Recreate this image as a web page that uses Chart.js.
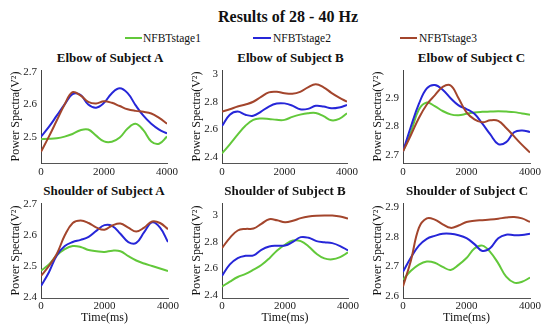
<!DOCTYPE html>
<html><head><meta charset="utf-8">
<script src="https://cdn.jsdelivr.net/npm/chart.js@4"></script>
<style>
html,body{margin:0;padding:0;background:#fff;}
body{width:550px;height:329px;position:relative;overflow:hidden;font-family:'Liberation Serif','Times New Roman',serif;color:#111;}
canvas{position:absolute;}
.t{position:absolute;white-space:nowrap;transform:translate(-50%,-50%);}
.sw{position:absolute;height:2px;}
.lg{position:absolute;white-space:nowrap;transform:translateY(-50%);}
</style></head><body>
<script>
// ---------- data ----------
const timeMs = [0,250,500,750,1000,1250,1500,1750,2000,2250,2500,2750,3000,3250,3500,3750,4000];
const seriesNames = ['NFBTstage1','NFBTstage2','NFBTstage3'];
const seriesColors = ['#62c83a','#2626d8','#a3452c'];
const xTicks = [0,2000,4000];
const panelTitles = ['Elbow of Subject A','Elbow of Subject B','Elbow of Subject C','Shoulder of Subject A','Shoulder of Subject B','Shoulder of Subject C'];

const elbowA_stage1 = [2.492,2.493,2.495,2.500,2.508,2.520,2.522,2.503,2.485,2.484,2.497,2.525,2.540,2.520,2.485,2.478,2.500];
const elbowA_stage2 = [2.500,2.530,2.565,2.600,2.632,2.630,2.600,2.590,2.605,2.635,2.650,2.635,2.598,2.565,2.540,2.522,2.510];
const elbowA_stage3 = [2.453,2.500,2.550,2.600,2.638,2.628,2.608,2.603,2.610,2.605,2.595,2.585,2.580,2.577,2.572,2.558,2.540];
const elbowA_yTicks = [2.5,2.6,2.7];
const elbowA_yLimits = [2.418,2.707];

const elbowB_stage1 = [2.424,2.490,2.560,2.625,2.668,2.678,2.675,2.668,2.668,2.690,2.706,2.716,2.718,2.695,2.665,2.675,2.716];
const elbowB_stage2 = [2.623,2.705,2.728,2.705,2.698,2.728,2.765,2.787,2.788,2.772,2.745,2.748,2.770,2.765,2.752,2.758,2.776];
const elbowB_stage3 = [2.728,2.745,2.765,2.780,2.800,2.835,2.868,2.872,2.862,2.858,2.872,2.905,2.927,2.905,2.865,2.830,2.800];
const elbowB_yTicks = [2.4,2.6,2.8,3];
const elbowB_yLimits = [2.354,3.031];

const elbowC_stage1 = [2.712,2.780,2.860,2.885,2.872,2.855,2.843,2.840,2.845,2.850,2.852,2.853,2.854,2.853,2.851,2.846,2.842];
const elbowC_stage2 = [2.712,2.800,2.880,2.935,2.947,2.930,2.900,2.875,2.862,2.845,2.810,2.772,2.738,2.745,2.780,2.786,2.781];
const elbowC_stage3 = [2.712,2.770,2.830,2.878,2.910,2.940,2.945,2.900,2.850,2.825,2.815,2.822,2.820,2.795,2.765,2.735,2.708];
const elbowC_yTicks = [2.7,2.8,2.9];
const elbowC_yLimits = [2.671,3.0];

const shoulderA_stage1 = [2.485,2.505,2.535,2.555,2.565,2.562,2.552,2.548,2.546,2.550,2.548,2.532,2.518,2.508,2.500,2.492,2.484];
const shoulderA_stage2 = [2.435,2.480,2.535,2.565,2.578,2.585,2.595,2.615,2.633,2.630,2.605,2.578,2.575,2.610,2.642,2.625,2.578];
const shoulderA_stage3 = [2.468,2.500,2.540,2.600,2.640,2.648,2.640,2.625,2.618,2.632,2.638,2.625,2.612,2.625,2.645,2.640,2.620];
const shoulderA_yTicks = [2.4,2.5,2.6,2.7];
const shoulderA_yLimits = [2.396,2.705];

const shoulderB_stage1 = [2.463,2.500,2.535,2.558,2.590,2.625,2.675,2.735,2.778,2.810,2.805,2.765,2.710,2.675,2.668,2.685,2.720];
const shoulderB_stage2 = [2.544,2.630,2.678,2.695,2.698,2.740,2.765,2.770,2.772,2.800,2.835,2.830,2.805,2.797,2.790,2.768,2.735];
const shoulderB_stage3 = [2.753,2.830,2.885,2.897,2.900,2.935,2.970,2.962,2.947,2.958,2.978,2.990,2.996,2.998,2.997,2.990,2.975];
const shoulderB_yTicks = [2.4,2.6,2.8,3];
const shoulderB_yLimits = [2.377,3.092];

const shoulderC_stage1 = [2.655,2.685,2.706,2.716,2.712,2.698,2.688,2.705,2.728,2.760,2.770,2.748,2.710,2.665,2.645,2.648,2.662];
const shoulderC_stage2 = [2.682,2.730,2.770,2.793,2.803,2.810,2.810,2.805,2.795,2.775,2.752,2.762,2.795,2.807,2.805,2.806,2.810];
const shoulderC_stage3 = [2.632,2.720,2.830,2.862,2.858,2.842,2.830,2.838,2.850,2.854,2.856,2.858,2.861,2.865,2.867,2.862,2.850];
const shoulderC_yTicks = [2.6,2.7,2.8,2.9];
const shoulderC_yLimits = [2.593,2.914];

// ---------- layout ----------
const FONT = "'Liberation Serif','Times New Roman',serif";
const YW = 40, PT = 4, PR = 20;
const panels = [
  {series:[elbowA_stage1,elbowA_stage2,elbowA_stage3], yTicks:elbowA_yTicks, lim:elbowA_yLimits, L:41,T:70,R:167,B:163, XH:18, xPad:3, bottom:false, tx:110, ty:57.5},
  {series:[elbowB_stage1,elbowB_stage2,elbowB_stage3], yTicks:elbowB_yTicks, lim:elbowB_yLimits, L:222,T:70,R:347,B:163, XH:18, xPad:3, bottom:false, tx:290.5, ty:57.5},
  {series:[elbowC_stage1,elbowC_stage2,elbowC_stage3], yTicks:elbowC_yTicks, lim:elbowC_yLimits, L:403,T:70,R:530,B:163, XH:18, xPad:3, bottom:false, tx:471.5, ty:57.5},
  {series:[shoulderA_stage1,shoulderA_stage2,shoulderA_stage3], yTicks:shoulderA_yTicks, lim:shoulderA_yLimits, L:41,T:203,R:168,B:298, XH:29, xPad:2, bottom:true, tx:104, ty:191},
  {series:[shoulderB_stage1,shoulderB_stage2,shoulderB_stage3], yTicks:shoulderB_yTicks, lim:shoulderB_yLimits, L:222,T:203,R:348,B:298, XH:29, xPad:2, bottom:true, tx:285, ty:191},
  {series:[shoulderC_stage1,shoulderC_stage2,shoulderC_stage3], yTicks:shoulderC_yTicks, lim:shoulderC_yLimits, L:403,T:203,R:530,B:298, XH:29, xPad:2, bottom:true, tx:467, ty:191}
];

function addText(txt, x, y, size, bold, cls) {
  const d = document.createElement('div');
  d.className = cls || 't';
  d.textContent = txt;
  d.style.left = x + 'px'; d.style.top = y + 'px';
  d.style.fontSize = size + 'px';
  d.style.fontWeight = bold ? 'bold' : 'normal';
  document.body.appendChild(d);
}

// main title + legend
addText('Results of 28 - 40 Hz', 288, 17, 16, true);
const legendPos = [{sx:125, sw:17, tx:143},{sx:253, sw:18, tx:273},{sx:400, sw:17, tx:419}];
seriesNames.forEach((n,i)=>{
  const s = document.createElement('div'); s.className='sw';
  s.style.left = legendPos[i].sx+'px'; s.style.top='37px'; s.style.width=legendPos[i].sw+'px';
  s.style.background = seriesColors[i];
  document.body.appendChild(s);
  addText(n, legendPos[i].tx, 38, 11.5, false, 'lg');
});

const fmt = v => String(+(+v).toFixed(2));

panels.forEach((p, idx) => {
  addText(panelTitles[idx], p.tx, p.ty, 13, true);
  const cv = document.createElement('canvas');
  const w = (p.R - p.L) + YW + PR, h = PT + (p.B - p.T) + p.XH;
  cv.width = w; cv.height = h;
  cv.style.width = w + 'px'; cv.style.height = h + 'px';
  cv.style.left = (p.L - YW) + 'px'; cv.style.top = (p.T - PT) + 'px';
  document.body.appendChild(cv);
  new Chart(cv, {
    type: 'line',
    data: {
      datasets: p.series.map((vals, i) => ({
        label: seriesNames[i],
        data: timeMs.map((t, k) => ({x: t, y: vals[k]})),
        borderColor: seriesColors[i],
        backgroundColor: seriesColors[i],
        borderWidth: 2,
        pointRadius: 0,
        tension: 0.4,
        fill: false,
        order: 2 - i
      }))
    },
    options: {
      responsive: false, animation: false, devicePixelRatio: 1,
      layout: {padding: {left: 0, top: PT, right: PR, bottom: 0}, autoPadding: false},
      plugins: {legend: {display: false}, tooltip: {enabled: false}, title: {display: false}},
      scales: {
        x: {
          type: 'linear', min: 0, max: 4000,
          afterBuildTicks: s => { s.ticks = xTicks.map(v => ({value: v})); },
          afterFit: s => { s.height = p.XH; s.paddingLeft = 0; s.paddingRight = 0; },
          grid: {display: false, drawTicks: false},
          border: {display: true, color: '#555', width: 1},
          ticks: {font: {family: FONT, size: 11}, color: '#222', padding: p.xPad, maxRotation: 0, autoSkip: false, callback: v => String(v)},
          title: p.bottom ? {display: true, text: 'Time(ms)', font: {family: FONT, size: 12, lineHeight: 1.2}, color: '#111', padding: {top: 0, bottom: 2}} : {display: false}
        },
        y: {
          type: 'linear', min: p.lim[0], max: p.lim[1],
          afterBuildTicks: s => { s.ticks = p.yTicks.map(v => ({value: v})); },
          afterFit: s => { s.width = YW; s.paddingTop = 0; s.paddingBottom = 0; },
          grid: {display: false, drawTicks: false},
          border: {display: true, color: '#444', width: 1},
          ticks: {font: {family: FONT, size: 11}, color: '#222', padding: 4, autoSkip: false, callback: fmt},
          title: {display: true, text: 'Power Spectra(V²)', font: {family: FONT, size: 12, lineHeight: 1.2}, color: '#111', padding: {top: 8, bottom: 0}}
        }
      }
    }
  });
});
</script>
</body></html>
